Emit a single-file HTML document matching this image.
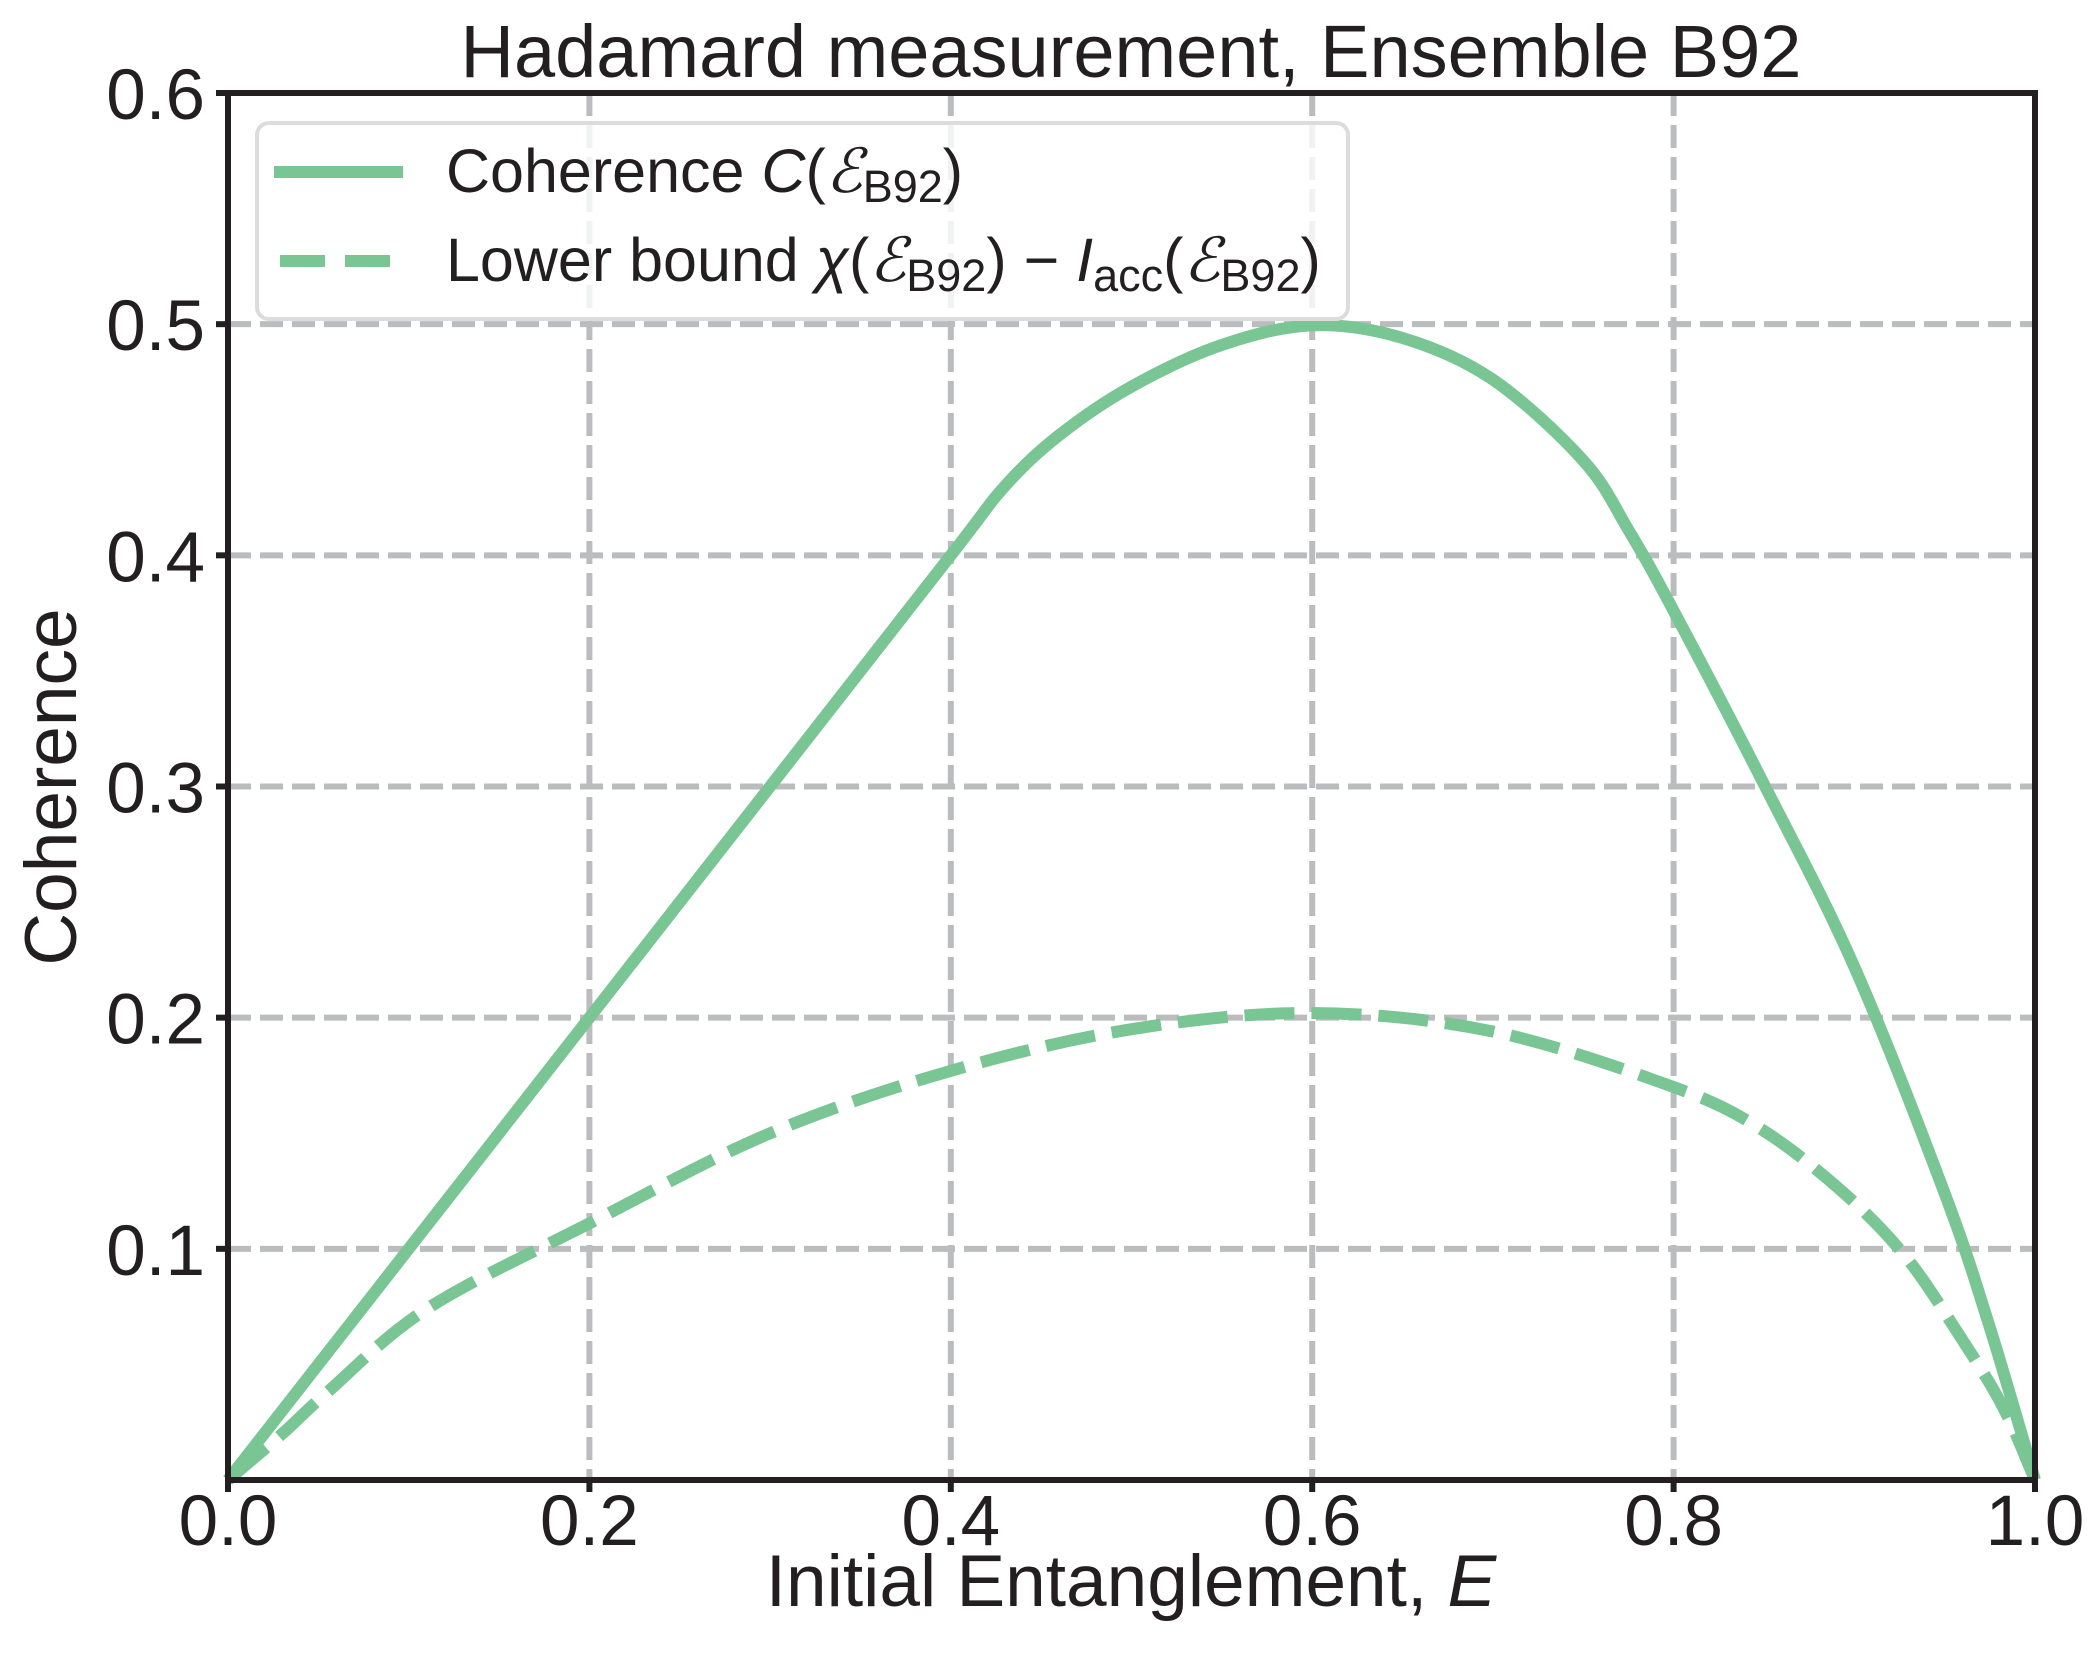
<!DOCTYPE html>
<html><head><meta charset="utf-8"><style>
html,body{margin:0;padding:0;background:#fff;}
svg{display:block;font-family:"Liberation Sans",Arial,sans-serif;}
</style></head><body>
<svg id="s" width="2100" height="1667" viewBox="0 0 2100 1667" xmlns="http://www.w3.org/2000/svg">
<rect width="2100" height="1667" fill="#fff"/>
<g id="grid" stroke="#bbbcbe" stroke-width="6" stroke-dasharray="23,9" fill="none"></g>
<path id="c1" fill="none" stroke="#7ac594" stroke-width="12" stroke-linejoin="round"/>
<path id="c2" fill="none" stroke="#7ac594" stroke-width="12" stroke-dasharray="50,17"/>
<rect x="228" y="93" width="1807" height="1387" fill="none" stroke="#231f20" stroke-width="6"/>
<g id="ticks" stroke="#231f20" stroke-width="6"></g>
<g id="labels" font-size="71" fill="#231f20"></g>
<text x="1131" y="77" font-size="74" text-anchor="middle" fill="#231f20">Hadamard measurement, Ensemble B92</text>
<text x="1131" y="1606" font-size="73" text-anchor="middle" fill="#231f20">Initial Entanglement, <tspan font-style="italic">E</tspan></text>
<text transform="translate(76,787) rotate(-90)" font-size="73" text-anchor="middle" fill="#231f20">Coherence</text>
<rect x="257" y="123" width="1091" height="196" rx="12" fill="#fff" fill-opacity="0.8" stroke="#dcdcdc" stroke-width="4"/>
<line x1="274" y1="172" x2="403" y2="172" stroke="#7ac594" stroke-width="12"/>
<line x1="280" y1="261" x2="390" y2="261" stroke="#7ac594" stroke-width="12" stroke-dasharray="45,20"/>
<text x="446" y="192" font-size="61" fill="#231f20">Coherence <tspan font-style="italic">C</tspan>(<tspan font-style="italic" font-family="'DejaVu Serif',serif">ℰ</tspan><tspan font-size="45" dy="10">B92</tspan><tspan dy="-10">)</tspan></text>
<text x="446" y="281" font-size="61" fill="#231f20">Lower bound <tspan font-style="italic">χ</tspan>(<tspan font-style="italic" font-family="'DejaVu Serif',serif">ℰ</tspan><tspan font-size="45" dy="10">B92</tspan><tspan dy="-10">) − </tspan><tspan font-style="italic">I</tspan><tspan font-size="45" dy="10">acc</tspan><tspan dy="-10">(</tspan><tspan font-style="italic" font-family="'DejaVu Serif',serif">ℰ</tspan><tspan font-size="45" dy="10">B92</tspan><tspan dy="-10">)</tspan></text>
</svg>
<script>
var L=228,R=2035,T=93,B=1480;
function X(e){return L+(R-L)*e;}
function Y(v){return B-(B-T)*v/0.6;}
var NS="http://www.w3.org/2000/svg";
function el(p,t,a,txt){var e=document.createElementNS(NS,t);for(var k in a)e.setAttribute(k,a[k]);if(txt)e.textContent=txt;document.getElementById(p).appendChild(e);}
for(var i=1;i<5;i++){var x=X(i*0.2);el("grid","line",{x1:x,y1:T,x2:x,y2:B});}
for(var i=1;i<6;i++){var y=Y(i*0.1);el("grid","line",{x1:L,y1:y,x2:R,y2:y});}
for(var i=0;i<=5;i++){var x=X(i*0.2);el("ticks","line",{x1:x,y1:B,x2:x,y2:B+12});el("labels","text",{x:x,y:1545,"text-anchor":"middle"},(i*0.2).toFixed(1));}
for(var i=1;i<=6;i++){var y=Y(i*0.1);el("ticks","line",{x1:L-12,y1:y,x2:L,y2:y});el("labels","text",{x:205,y:y+26,"text-anchor":"end"},(i*0.1).toFixed(1));}
function path(pts){
 var P=pts.map(function(p){return [X(p[0]),Y(p[1])];});
 var d="M"+P[0][0]+","+P[0][1];
 for(var i=0;i<P.length-1;i++){
  var p0=P[Math.max(0,i-1)],p1=P[i],p2=P[i+1],p3=P[Math.min(P.length-1,i+2)];
  var c1=[p1[0]+(p2[0]-p0[0])/6,p1[1]+(p2[1]-p0[1])/6];
  var c2=[p2[0]-(p3[0]-p1[0])/6,p2[1]-(p3[1]-p1[1])/6];
  d+=" C"+c1[0]+","+c1[1]+" "+c2[0]+","+c2[1]+" "+p2[0]+","+p2[1];
 }
 return d;
}
var s1=[[0,0],[0.1,0.1],[0.2,0.2],[0.3,0.3],[0.4,0.4],[0.43,0.43],[0.46,0.452],[0.5,0.473],[0.55,0.491],[0.6,0.4995],[0.65,0.494],[0.7,0.476],[0.75,0.441],[0.775,0.411],[0.8,0.376],[0.85,0.301],[0.9,0.222],[0.95,0.124],[0.975,0.066],[1,0]];
var s2=[[0,0],[0.03,0.02],[0.055,0.038],[0.11,0.074],[0.2,0.111],[0.3,0.15],[0.4,0.177],[0.5,0.195],[0.6,0.202],[0.7,0.194],[0.8,0.17],[0.848,0.152],[0.893,0.125],[0.928,0.097],[0.957,0.064],[0.982,0.032],[1,0]];
document.getElementById("c1").setAttribute("d",path(s1));
document.getElementById("c2").setAttribute("d",path(s2));
</script>
</body></html>
